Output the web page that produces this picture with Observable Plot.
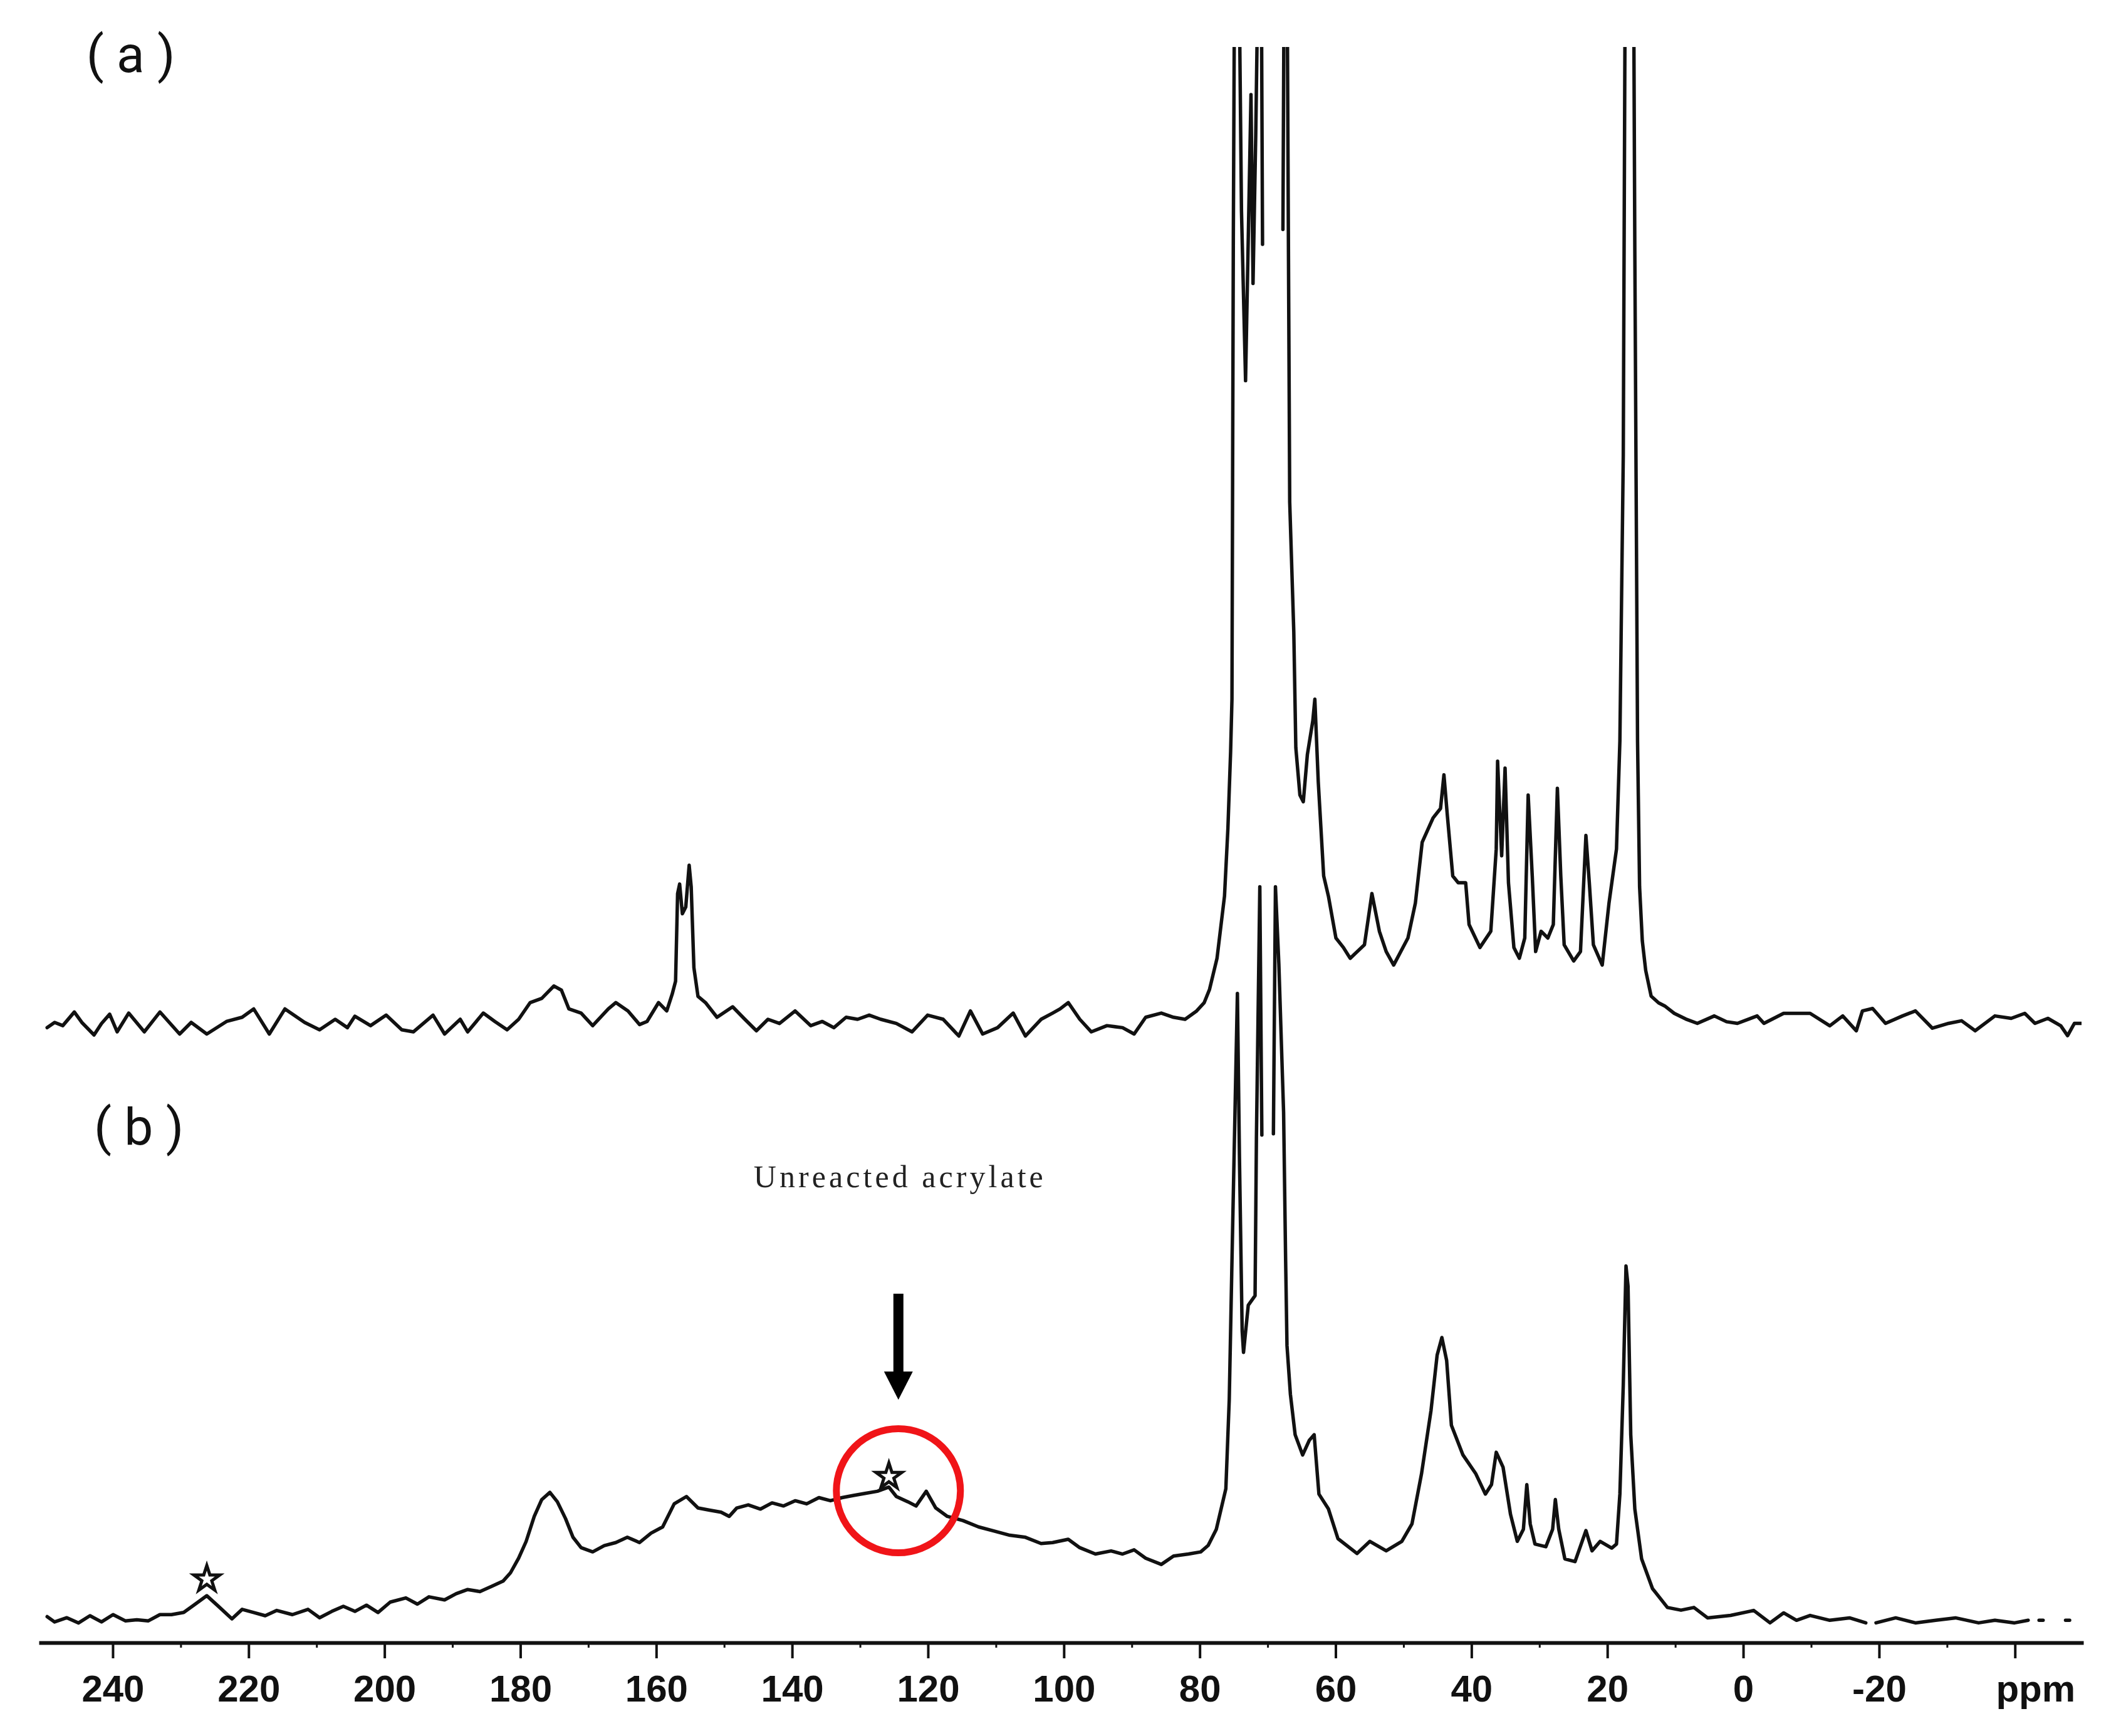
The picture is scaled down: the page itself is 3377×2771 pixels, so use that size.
<!DOCTYPE html>
<html><head><meta charset="utf-8">
<script src="https://cdn.jsdelivr.net/npm/d3@7"></script>
<script src="https://cdn.jsdelivr.net/npm/@observablehq/plot@0.6"></script>
<style>
html,body{margin:0;padding:0;background:#fff;}
svg{display:block;}
</style></head><body><div id="chart"></div>
<script>
// ---- data (chemical shift in ppm, intensity in arbitrary units) ----
const aPpm = [249.7,248.6,247.4,245.7,244.6,242.8,241.7,240.5,239.4,237.7,
235.4,233.1,230.2,228.5,226.2,223.3,221.0,219.3,217.0,214.7,
211.8,209.6,207.3,205.5,204.4,202.1,199.8,197.5,195.8,192.9,
191.2,188.9,187.8,185.5,183.8,182.0,180.3,178.6,176.9,175.1,
174.0,172.9,171.1,169.4,167.1,166.0,164.2,162.5,161.4,159.7,
158.5,157.7,157.2,156.9,156.6,156.2,155.7,155.2,154.9,154.5,
153.9,152.8,151.1,148.8,147.0,145.3,143.6,141.9,139.6,137.3,
135.6,133.9,132.1,130.4,128.7,127.0,124.7,122.4,120.1,117.8,
115.5,113.8,112.0,109.8,107.5,105.7,103.4,101.7,100.6,99.4,
97.7,96.0,93.7,91.4,89.7,88.0,85.7,83.9,82.2,80.5,
79.4,78.6,77.5,76.4,75.9,75.5,75.3,75.1,74.9,74.3,
73.9,73.3,72.8,72.5,72.2,71.8,71.4,71.0,70.8,70.5,
67.8,67.6,67.2,67.0,66.8,66.2,65.9,65.3,64.8,64.2,
63.4,63.1,62.6,61.8,61.1,60.0,58.9,57.9,55.8,54.7,
53.6,52.6,51.5,49.4,48.3,47.3,45.7,44.6,44.1,43.6,
42.8,42.0,40.9,40.4,38.8,37.2,36.4,36.2,35.6,35.1,
34.6,33.8,33.0,32.2,31.7,31.1,30.6,29.8,28.8,28.0,
27.4,26.9,26.4,25.0,24.0,23.2,22.7,22.1,20.8,19.8,
18.7,18.2,17.7,17.4,16.2,16.0,15.6,15.3,14.9,14.4,
13.6,12.5,11.6,10.2,8.5,6.8,4.3,2.5,0.9,-2.0,
-3.0,-5.9,-9.8,-12.7,-14.6,-16.6,-17.5,-19.0,-20.9,-23.4,
-25.3,-27.8,-30.2,-32.1,-34.1,-37.0,-39.4,-41.4,-42.9,-44.8,
-46.7,-47.7,-48.7,-49.9];
const aInt = [-4.4,-0.5,-2.9,7.2,-0.5,-9.8,-1.3,5.6,-7.5,6.4,
-7.5,7.2,-9.1,-0.5,-9.1,0.2,3.3,9.5,-9.1,9.5,
-0.5,-6.0,1.8,-4.4,4.1,-2.9,4.9,-6.0,-7.5,4.9,
-9.1,1.8,-7.5,6.4,0.2,-6.0,1.8,14.2,17.3,26.5,
23.4,9.5,6.4,-2.9,9.5,14.2,8.0,-2.1,0.2,14.2,
8.0,20.4,30,95,102,80,85,116,100,40,
18.8,14.2,3.3,11.1,1.8,-6.7,1.8,-1.3,8.0,-2.9,
0.2,-4.4,3.3,1.8,4.9,1.8,-1.3,-7.5,4.9,1.8,
-10.6,8.0,-9.1,-4.4,6.4,-10.6,1.8,6.4,9.5,14.2,
1.8,-7.5,-2.9,-4.4,-9.1,3.3,6.4,3.3,1.8,8.0,
14,24,47,93,143,200,239,581,800,800,
601,475,607,687,547,657,800,800,576,null,
587,800,800,586,385,289,203,168,163,198,
223,239,178,108,93,62,55,47,57,95,
67,52,42,62,88,133,151,158,183,153,
108,103,103,72,55,67,128,193,123,188,
103,55,47,62,168,108,52,67,62,72,
173,108,57,45,52,138,103,57,42,88,
128,208,420,800,800,571,208,100,60,38,
19,14,11.7,6.2,2,-1.2,4.3,0,-1.2,4.3,
-1.2,6.2,6.2,-3.0,4.3,-6.7,8.0,9.8,-1.2,4.3,
8.0,-4.8,-1.2,0.7,-6.7,4.3,2.5,6.2,-1.2,2.5,
-3.0,-10.3,-1.2,-1.2];

const bPpm = [249.7,248.6,246.8,245.1,243.4,241.7,240.0,238.2,236.5,234.8,
233.1,231.4,229.6,227.9,226.2,224.5,222.5,221.0,219.3,217.6,
215.9,213.6,211.3,209.6,207.8,206.1,204.4,202.7,201.0,199.2,
196.9,195.2,193.5,191.2,189.5,187.8,186.0,184.3,182.6,181.5,
180.3,179.2,178.0,176.9,175.7,174.6,173.4,172.3,171.1,169.4,
167.7,166.0,164.3,162.5,160.8,159.1,157.4,155.6,153.9,152.2,
150.5,149.3,148.2,146.5,144.7,143.0,141.3,139.6,137.9,136.1,
134.4,132.7,131.0,129.3,127.5,125.8,124.7,123.0,121.8,120.3,
118.9,117.2,114.9,112.6,110.3,108.0,105.7,103.4,101.7,99.4,
97.7,95.4,93.1,91.4,89.7,88.0,85.7,83.9,81.7,79.9,
78.8,77.6,76.2,75.7,75.2,74.5,74.2,73.8,73.6,72.9,
71.9,71.7,71.2,70.9,70.0,69.2,68.9,68.4,67.7,67.4,
67.2,66.7,66.0,64.9,63.9,63.2,62.5,61.1,59.7,56.9,
55.0,52.6,50.3,48.8,47.4,46.0,45.1,44.4,43.7,43.0,
41.3,39.4,38.0,37.1,36.4,35.4,34.3,33.3,32.4,31.9,
31.4,30.7,29.1,28.1,27.7,27.2,26.3,24.8,23.2,22.3,
21.1,19.4,18.7,18.2,17.7,17.3,17.0,16.6,16.0,15.0,
13.4,11.2,9.2,7.3,5.3,1.9,-1.5,-3.9,-5.9,-7.8,
-9.8,-12.7,-15.6,-18.0,-18.8,-19.5,-22.4,-25.3,-28.3,-31.2,
-34.6,-37.0,-39.9,-41.9,-42.7,-43.5,-44.1,-45.5,-47.4,-48.0];
const bInt = [2.2,-1.7,1.4,-2.5,2.9,-1.7,3.7,-0.9,-0.1,-0.9,
3.7,3.7,5.3,11.5,17.7,9.9,0.6,7.6,5.3,2.9,
6.8,3.7,7.6,1.4,6.1,9.9,6.1,10.7,5.3,13.0,
16.1,11.5,16.9,14.6,19.2,22.3,20.8,24.6,28.5,34.7,
45.5,57.9,76.5,88.9,94.3,87.3,74.9,61.0,53.3,50.2,
54.8,57.1,61.0,57.1,64.1,68.7,85.8,91.2,82.7,81.1,
79.6,76.5,82.7,85.0,81.9,86.5,84.2,88.1,85.8,90.4,
88.1,90.4,92.0,93.5,95.1,98.2,91.2,87.3,84.2,95.1,
82.7,76.5,73.4,68.7,65.6,62.5,61.0,56.4,57.1,59.5,
53.3,48.6,50.9,48.6,51.7,45.5,40.9,47.1,48.6,50.2,
55,67,97,163,291,464,343,214,198,233,
240,357,543,359,null,360,543,486,376,266,
203,167,137,122,133,137,93,82,60,49,
58,51,58,71,108,155,196,209,192,144,
122,108,93,100,124,113,78,58,67,100,
71,56,54,67,89,67,45,43,66,51,
58,53,56,93,174,262,247,137,82,45,
23,9,7,9,1.3,3.1,6.8,-2.4,5.0,-0.5,
3.1,-0.5,1.3,-2.4,null,-2.4,1.3,-2.4,-0.5,1.3,
-2.4,-0.5,-2.4,-0.5,null,-0.5,-0.5,null,-0.5,-0.5];

const majorTicks = [240,220,200,180,160,140,120,100,80,60,40,20,0,-20,-40];
const tickLabels = ["240","220","200","180","160","140","120","100","80","60","40","20","0","-20",""];
const minorTicks = [230,210,190,170,150,130,110,90,70,50,30,10,-10,-30];
const unitLabel = "ppm";
const panelLabels = ["( a )","( b )"];
const annotationText = "Unreacted acrylate";
const starPpm = [226.2, 125.8];
const starInt = [30, 106];
const markedPpm = 124.4;   // unreacted acrylate signal in (b)

// ---- build tables ----
const OFFSET_A = 443; // vertical stacking offset of trace (a)
const specA = aPpm.map((p, i) => ({ppm: p, v: aInt[i] == null ? NaN : aInt[i] + OFFSET_A}));
const specB = bPpm.map((p, i) => ({ppm: p, v: bInt[i] == null ? NaN : bInt[i]}));
const stars = starPpm.map((p, i) => ({ppm: p, v: starInt[i]}));

const axisFont = "'Liberation Sans', Arial, Helvetica, sans-serif";

const plot = Plot.plot({
  width: 3377,
  height: 2771,
  marginLeft: 65,
  marginRight: 55,
  marginTop: 75,
  marginBottom: 149,
  x: {domain: [250.6, -49.8], axis: null, label: null},
  y: {domain: [-17.3, 1165], axis: null, label: null},
  style: {background: "#fff", color: "#111", overflow: "visible"},
  marks: [
    Plot.line(specA, {x: "ppm", y: "v", stroke: "#111", strokeWidth: 5.5, clip: true}),
    Plot.line(specB, {x: "ppm", y: "v", stroke: "#111", strokeWidth: 5.5, clip: true}),
    Plot.frame({anchor: "bottom", stroke: "#111", strokeWidth: 6}),
    Plot.axisX({ticks: majorTicks, tickSize: 25, tickPadding: 26,
      tickFormat: (d, i) => tickLabels[majorTicks.indexOf(d)],
      fontSize: 60, fontWeight: "bold", fontFamily: axisFont, strokeWidth: 4, label: null}),
    Plot.axisX({ticks: minorTicks, tickSize: 8, tickFormat: () => "", strokeWidth: 3, label: null}),
    Plot.text([unitLabel], {x: -43, frameAnchor: "bottom", dy: 51, lineAnchor: "top",
      fontSize: 60, fontWeight: "bold", fontFamily: axisFont, fill: "#111"}),
    // panel labels
    Plot.text([panelLabels[0]], {x: 237.4, y: 1146.6, lineAnchor: "bottom", textAnchor: "middle",
      fontSize: 82, fontFamily: "Roboto, 'Liberation Sans', sans-serif", fill: "#111"}),
    Plot.text([panelLabels[1]], {x: 236.2, y: 351.8, lineAnchor: "bottom", textAnchor: "middle",
      fontSize: 82, fontFamily: "Roboto, 'Liberation Sans', sans-serif", fill: "#111"}),
    // annotation
    Plot.text([annotationText], {x: markedPpm, y: 320.6, lineAnchor: "bottom", textAnchor: "middle",
      fontSize: 50, fontFamily: "'Liberation Serif', 'DejaVu Serif', serif", fill: "#222"}),
    Plot.ruleX([markedPpm], {y1: 181, y2: 241.3, stroke: "#000", strokeWidth: 16}),
    Plot.vector([markedPpm], {x: d => d, y: 183.8, length: 45, r: 23, rotate: 180, shape: "spike",
      anchor: "start", fill: "#000", stroke: "none"}),
    Plot.dot([markedPpm], {x: d => d, y: 95.5, r: 99, stroke: "#f01418", strokeWidth: 11, fill: "none"}),
    Plot.dot(stars, {x: "ppm", y: "v", symbol: "star", r: 13, stroke: "#111", strokeWidth: 5, fill: "#fff"})
  ]
});

d3.select(plot).selectAll("text")
  .filter(function() { return this.textContent === annotationText; })
  .attr("textLength", 462).attr("lengthAdjust", "spacing");

document.getElementById("chart").appendChild(plot);
</script>
</body></html>
